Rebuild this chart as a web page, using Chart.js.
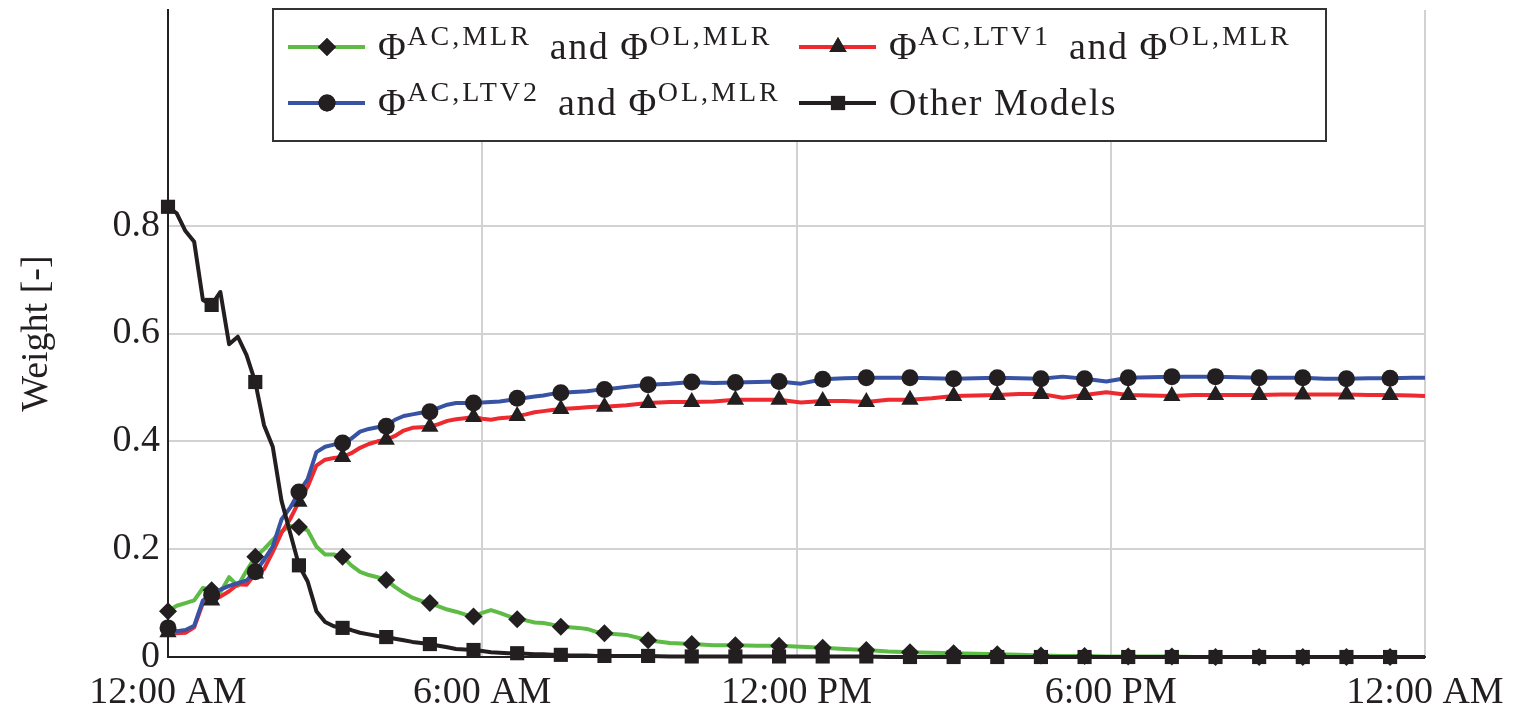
<!DOCTYPE html>
<html>
<head>
<meta charset="utf-8">
<script src="https://cdn.jsdelivr.net/npm/chart.js@4/dist/chart.umd.min.js"></script>
<style>
  html, body { margin: 0; padding: 0; background: #fff; }
</style>
</head>
<body>
<canvas id="weightChart" width="1515" height="708"></canvas>
<script>
// Time of day in minutes after midnight
const minutes = [
  0, 10, 20, 30, 40, 50, 60, 70, 80, 90, 100, 110, 120, 130, 140, 150, 160, 170, 180, 190,
  200, 210, 220, 230, 240, 250, 260, 270, 280, 290, 300, 310, 320, 330, 340, 350, 360, 370, 380, 390,
  400, 410, 420, 430, 440, 450, 460, 470, 480, 490, 500,
  525, 550, 575, 600, 625, 650, 675, 700, 725, 750, 775, 800, 825, 850, 875, 900, 925, 950, 975,
  1000, 1025, 1050, 1075, 1100, 1125, 1150, 1175, 1200, 1225, 1250, 1275, 1300, 1325, 1350, 1375,
  1400, 1425, 1440
];

// Weights
const mlrWeights = [
  0.085, 0.095, 0.100, 0.105, 0.128, 0.124, 0.120, 0.148, 0.132, 0.160, 0.186, 0.200, 0.217, 0.233, 0.243, 0.241, 0.235, 0.205, 0.190, 0.190,
  0.186, 0.170, 0.158, 0.152, 0.148, 0.143, 0.130, 0.119, 0.110, 0.104, 0.100, 0.094, 0.088, 0.084, 0.079, 0.075, 0.082, 0.087, 0.082, 0.076,
  0.070, 0.068, 0.064, 0.063, 0.060, 0.056, 0.055, 0.054, 0.052, 0.047, 0.044,
  0.041, 0.031, 0.026, 0.024, 0.022, 0.022, 0.021, 0.021, 0.019, 0.017, 0.015, 0.013, 0.010, 0.009, 0.008, 0.007, 0.006, 0.005, 0.004,
  0.003, 0.002, 0.002, 0.001, 0.001, 0.001, 0.001, 0, 0, 0, 0, 0, 0, 0, 0, 0,
  0, 0, 0
];
const ltv1Weights = [
  0.046, 0.044, 0.045, 0.055, 0.100, 0.105, 0.112, 0.122, 0.135, 0.134, 0.155, 0.163, 0.195, 0.230, 0.256, 0.288, 0.316, 0.355, 0.366, 0.369,
  0.371, 0.378, 0.388, 0.395, 0.400, 0.403, 0.410, 0.420, 0.425, 0.426, 0.427, 0.432, 0.438, 0.441, 0.443, 0.445, 0.442, 0.440, 0.443, 0.444,
  0.447, 0.450, 0.454, 0.456, 0.458, 0.460, 0.461, 0.462, 0.463, 0.464, 0.464,
  0.467, 0.471, 0.473, 0.473, 0.474, 0.477, 0.477, 0.477, 0.472, 0.475, 0.475, 0.473, 0.477, 0.477, 0.480, 0.484, 0.485, 0.486, 0.488,
  0.488, 0.481, 0.486, 0.491, 0.486, 0.485, 0.484, 0.486, 0.486, 0.486, 0.486, 0.487, 0.487, 0.487, 0.487, 0.486,
  0.486, 0.485, 0.484
];
const ltv2Weights = [
  0.054, 0.048, 0.050, 0.058, 0.105, 0.115, 0.125, 0.132, 0.137, 0.142, 0.158, 0.180, 0.205, 0.255, 0.277, 0.306, 0.330, 0.380, 0.390, 0.394,
  0.397, 0.405, 0.418, 0.423, 0.426, 0.428, 0.440, 0.447, 0.450, 0.453, 0.455, 0.462, 0.468, 0.471, 0.471, 0.471, 0.472, 0.473, 0.474, 0.476,
  0.480, 0.481, 0.483, 0.485, 0.488, 0.490, 0.491, 0.492, 0.493, 0.495, 0.496,
  0.501, 0.505, 0.507, 0.510, 0.508, 0.509, 0.510, 0.511, 0.507, 0.515, 0.517, 0.518, 0.518, 0.518, 0.517, 0.516, 0.517, 0.518, 0.517,
  0.516, 0.520, 0.516, 0.511, 0.518, 0.519, 0.520, 0.520, 0.520, 0.519, 0.518, 0.518, 0.518, 0.516, 0.516, 0.517,
  0.517, 0.518, 0.518
];
const otherWeights = [
  0.835, 0.823, 0.790, 0.770, 0.662, 0.653, 0.677, 0.580, 0.594, 0.560, 0.510, 0.430, 0.390, 0.290, 0.230, 0.170, 0.140, 0.085, 0.065, 0.057,
  0.054, 0.050, 0.045, 0.042, 0.039, 0.037, 0.034, 0.031, 0.028, 0.026, 0.024, 0.021, 0.018, 0.015, 0.014, 0.013, 0.011, 0.009, 0.008, 0.007,
  0.007, 0.006, 0.005, 0.005, 0.004, 0.004, 0.003, 0.003, 0.003, 0.002, 0.002,
  0.002, 0.002, 0.001, 0.001, 0.001, 0.001, 0.001, 0.001, 0.001, 0.001, 0.001, 0.001, 0, 0, 0, 0, 0, 0, 0,
  0, 0, 0, 0, 0, 0, 0, 0, 0, 0, 0, 0, 0, 0, 0, 0,
  0, 0, 0
];

const xTickValues = [0, 360, 720, 1080, 1440];
const xTickLabels = ['12:00 AM', '6:00 AM', '12:00 PM', '6:00 PM', '12:00 AM'];
const yTickValues = [0, 0.2, 0.4, 0.6, 0.8];
const markerEvery = 50; // one marker every 50 minutes

// legend text: [text, isSuperscript]
const legendMlr = [['Φ', false], ['AC,MLR', true], [' and Φ', false], ['OL,MLR', true]];
const legendLtv1 = [['Φ', false], ['AC,LTV1', true], [' and Φ', false], ['OL,MLR', true]];
const legendLtv2 = [['Φ', false], ['AC,LTV2', true], [' and Φ', false], ['OL,MLR', true]];
const legendOther = [['Other Models', false]];

const serif = '"Liberation Serif", "DejaVu Serif", serif';
const ink = '#231f20';

function toPoints(values) {
  return minutes.map((m, i) => ({ x: m, y: values[i] }));
}

function series(values, color, style, radius, order) {
  return {
    data: toPoints(values),
    borderColor: color,
    borderWidth: 4,
    pointStyle: style,
    pointRadius: (c) => (c.raw && c.raw.x % markerEvery === 0 ? radius : 0),
    pointBackgroundColor: ink,
    pointBorderColor: ink,
    pointBorderWidth: 0,
    pointHoverRadius: 0,
    tension: 0,
    borderJoinStyle: 'round',
    clip: false,
    order: order,
  };
}

const datasets = [
  Object.assign(series(mlrWeights, '#5dbb46', 'rectRot', 9, 3), { legendText: legendMlr }),
  Object.assign(series(ltv1Weights, '#ed2a2f', 'triangle', 10, 2), { legendText: legendLtv1 }),
  Object.assign(series(ltv2Weights, '#3853a4', 'circle', 8.5, 1), { legendText: legendLtv2 }),
  Object.assign(series(otherWeights, ink, 'rect', 10, 0), { legendText: legendOther }),
];

// legend in a white box, with superscripts
const texLegend = {
  id: 'texLegend',
  afterDraw(chart) {
    const ctx = chart.ctx;
    const box = { x: 273, y: 9, w: 1053, h: 132 };
    const cols = [288, 799];
    const rows = [47, 103];
    const slots = [[0, 0], [1, 0], [0, 1], [1, 1]];
    ctx.save();
    ctx.fillStyle = '#fff';
    ctx.fillRect(box.x, box.y, box.w, box.h);
    ctx.strokeStyle = '#333';
    ctx.lineWidth = 2;
    ctx.strokeRect(box.x, box.y, box.w, box.h);
    chart.data.datasets.forEach((ds, i) => {
      const x0 = cols[slots[i][0]];
      const y0 = rows[slots[i][1]];
      ctx.strokeStyle = ds.borderColor;
      ctx.lineWidth = ds.borderWidth;
      ctx.beginPath();
      ctx.moveTo(x0, y0);
      ctx.lineTo(x0 + 77, y0);
      ctx.stroke();
      ctx.fillStyle = ink;
      const r = ds.pointRadius({ raw: { x: 0 } });
      Chart.helpers.drawPoint(ctx, { pointStyle: ds.pointStyle, radius: r, rotation: 0, borderWidth: 0 }, x0 + 39, y0);
      ctx.fill();
      let tx = x0 + 90;
      ctx.textBaseline = 'alphabetic';
      ds.legendText.forEach(([text, sup]) => {
        ctx.font = (sup ? '28px ' : '38px ') + serif;
        ctx.letterSpacing = sup ? '3px' : '1.5px';
        ctx.fillStyle = ink;
        ctx.fillText(text, tx, y0 + (sup ? -2 : 12));
        tx += ctx.measureText(text).width + (sup ? 7 : 0);
      });
    });
    ctx.restore();
  }
};

new Chart(document.getElementById('weightChart'), {
  type: 'line',
  data: { datasets: datasets },
  plugins: [texLegend],
  options: {
    responsive: false,
    animation: false,
    devicePixelRatio: 1,
    layout: { padding: { top: 10, right: 90, left: 0, bottom: 0 } },
    plugins: { legend: { display: false }, tooltip: { enabled: false } },
    scales: {
      x: {
        type: 'linear',
        min: 0,
        max: 1440,
        afterBuildTicks: (scale) => { scale.ticks = xTickValues.map((v) => ({ value: v })); },
        afterFit: (scale) => { scale.height = 51; scale.paddingLeft = 0; scale.paddingRight = 0; },
        ticks: {
          autoSkip: false,
          maxRotation: 0,
          padding: 13,
          color: ink,
          font: { family: serif, size: 38 },
          callback: (v) => xTickLabels[xTickValues.indexOf(v)],
        },
        grid: { color: '#d2d2d2', lineWidth: 2, drawTicks: false },
        border: { color: ink, width: 2 },
      },
      y: {
        min: 0,
        max: 1.2,
        afterBuildTicks: (scale) => { scale.ticks = yTickValues.map((v) => ({ value: v })); },
        afterFit: (scale) => { scale.width = 168; scale.paddingTop = 0; scale.paddingBottom = 0; },
        ticks: {
          padding: 8,
          color: ink,
          font: { family: serif, size: 38 },
          callback: (v) => (v === 0 ? '0' : v.toFixed(1)),
        },
        grid: { color: '#d2d2d2', lineWidth: 2, drawTicks: false },
        border: { color: ink, width: 2 },
        title: {
          display: true,
          text: 'Weight [-]',
          color: ink,
          font: { family: serif, size: 38 },
          padding: { top: 14, bottom: 0 },
        },
      },
    },
  },
});
</script>
</body>
</html>
